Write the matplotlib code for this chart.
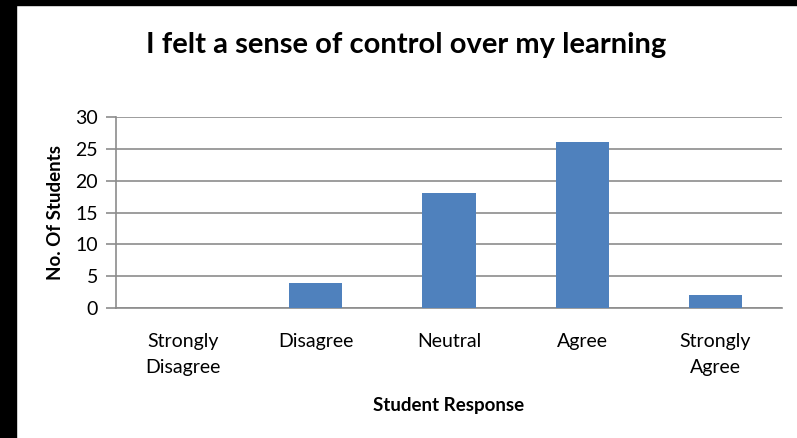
import numpy as np
import matplotlib.pyplot as plt

plt.rcParams['font.family'] = ['Lato', 'DejaVu Sans']

categories = ["Strongly\nDisagree", "Disagree", "Neutral", "Agree", "Strongly\nAgree"]
students = [0, 4, 18, 26, 2]
yticks = [0, 5, 10, 15, 20, 25, 30]

fig = plt.figure(figsize=(7.97, 4.38), dpi=100)
# black frame on the left and top, like the screenshot
fig.patches.append(plt.Rectangle((0, 0), 16 / 797, 1, transform=fig.transFigure,
                                 color="black", zorder=0))
fig.patches.append(plt.Rectangle((0, 1 - 5 / 438), 1, 5 / 438, transform=fig.transFigure,
                                 color="black", zorder=0))

ax = fig.add_axes([116 / 797, 1 - 308 / 438, (782 - 116) / 797, (308 - 117) / 438])

x = np.arange(len(categories))
ax.bar(x, students, width=0.4, color="#4f81bd", zorder=3)

ax.set_xlim(-0.5, len(categories) - 0.5)
ax.set_ylim(0, 30)
ax.set_yticks(yticks)
ax.yaxis.grid(True, color="#8c8c8c", linewidth=1.2, zorder=0)
ax.set_xticks(x)
ax.set_xticklabels(categories, fontsize=14, linespacing=1.65)
ax.tick_params(axis="x", length=0, pad=18)
ax.tick_params(axis="y", labelsize=14, length=7, color="#8c8c8c", width=1.2, pad=6)

for side in ["top", "right"]:
    ax.spines[side].set_visible(False)
ax.spines["left"].set_color("#8c8c8c")
ax.spines["bottom"].set_color("#8c8c8c")
ax.spines["left"].set_linewidth(1.2)
ax.spines["bottom"].set_linewidth(1.2)

ax.set_ylabel("No. Of Students", fontsize=13.5, fontweight="bold", labelpad=8)
ax.set_xlabel("Student Response", fontsize=13.5, fontweight="bold", labelpad=15)
fig.text(406 / 797, 1 - 45 / 438, "I felt a sense of control over my learning",
         fontsize=21, fontweight="bold", ha="center", va="center")

fig.savefig("out.png", dpi=100)
